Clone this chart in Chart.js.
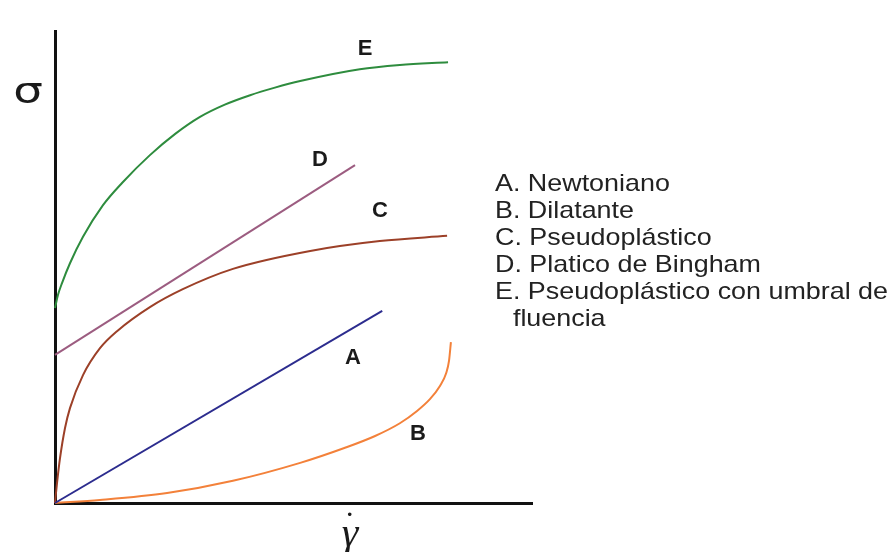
<!DOCTYPE html>
<html>
<head>
<meta charset="utf-8">
<script src="https://cdn.jsdelivr.net/npm/chart.js@4.4.1/dist/chart.umd.min.js"></script>
<style>
  body { margin: 0; background: #fff; }
  #wrap { position: relative; width: 893px; height: 552px; }
  .txt { position: absolute; font-family: 'Liberation Sans', Arial, sans-serif; color: #1a1a1a; white-space: nowrap; }
  .curve { font-weight: bold; font-size: 22px; transform: translate(-50%, -50%); }
  #legend { left: 495px; top: 169px; font-size: 24px; line-height: 27px; transform: scaleX(1.12); transform-origin: left top; color: #222; }
  #legend .indent { padding-left: 16px; }
  #sigma { left: 28px; top: 94px; font-size: 36px; transform: translate(-50%, -58%) scaleX(1.3); font-family: 'DejaVu Sans', sans-serif; }
  #gamma { left: 350px; top: 534px; font-size: 42px; font-style: italic; transform: translate(-50%, -55%); font-family: 'Liberation Serif', serif; }
  #gdot { left: 344px; top: 505px; font-size: 34px; font-family: 'Liberation Serif', serif; }
</style>
</head>
<body>
<div id="wrap">
  <canvas id="rheoChart" width="893" height="552"></canvas>
  <div class="txt curve" style="left:365px;top:48px">E</div>
  <div class="txt curve" style="left:320px;top:159px">D</div>
  <div class="txt curve" style="left:380px;top:210px">C</div>
  <div class="txt curve" style="left:353px;top:357px">A</div>
  <div class="txt curve" style="left:418px;top:433px">B</div>
  <div class="txt" id="legend">
    A. Newtoniano<br>
    B. Dilatante<br>
    C. Pseudoplástico<br>
    D. Platico de Bingham<br>
    E. Pseudoplástico con umbral de<br>
    <span class="indent">fluencia</span>
  </div>
  <div class="txt" id="sigma">σ</div>
  <div class="txt" id="gamma">γ</div>
  <div class="txt" id="gdot">˙</div>
</div>
<script>
// shear rate (x) and shear stress (y), 0..100 on both axes
var newtonianoX = [0, 68.6];
var newtonianoY = [0, 40.7];

var dilatanteX = [0, 9.43, 23.5, 37.3, 51.4, 60.8, 67.1, 72.3, 75.9, 78.6, 80.7, 82.0, 82.6, 83.0];
var dilatanteY = [0, 0.64, 2.1, 4.7, 8.5, 11.7, 14.2, 16.9, 19.5, 22.0, 24.8, 27.5, 30.1, 34.1];

var pseudoX = [0, 0.42, 1.05, 2.1, 3.14, 5.87, 9.43, 13.0, 19.9, 26.8, 37.3, 53.5, 68.1, 82.2];
var pseudoY = [0, 4.2, 9.5, 15.9, 20.1, 27.1, 32.8, 36.4, 41.5, 45.3, 49.6, 53.4, 55.5, 56.6];

var binghamX = [0, 62.9];
var binghamY = [31.4, 71.6];

var umbralX = [0, 0.63, 1.47, 3.14, 5.87, 10.06, 14.05, 19.9, 25.2, 30.4, 35.6, 40.9, 46.1, 51.4, 63.9, 72.3, 82.4];
var umbralY = [41.3, 44.1, 46.6, 50.8, 56.4, 63.1, 67.8, 73.7, 78.2, 81.8, 84.4, 86.4, 88.0, 89.4, 91.9, 92.8, 93.4];

function pts(xs, ys) {
  return xs.map(function (x, i) { return { x: x, y: ys[i] }; });
}

function curve(label, xs, ys, color) {
  return {
    label: label,
    data: pts(xs, ys),
    showLine: true,
    borderColor: color,
    borderWidth: 2,
    pointRadius: 0,
    cubicInterpolationMode: 'monotone',
    fill: false,
    clip: false
  };
}

var chart = new Chart(document.getElementById('rheoChart').getContext('2d'), {
  type: 'scatter',
  data: {
    datasets: [
      curve('A', newtonianoX, newtonianoY, '#2c2c8e'),
      curve('B', dilatanteX, dilatanteY, '#f3813a'),
      curve('C', pseudoX, pseudoY, '#9c4028'),
      curve('D', binghamX, binghamY, '#9c5c80'),
      curve('E', umbralX, umbralY, '#2e8c3e')
    ]
  },
  options: {
    responsive: false,
    animation: false,
    layout: { padding: { left: 55, right: 361, top: 31, bottom: 49 } },
    plugins: { legend: { display: false }, tooltip: { enabled: false } },
    scales: {
      x: {
        type: 'linear', min: 0, max: 100,
        ticks: { display: false },
        grid: { display: false, drawTicks: false },
        border: { display: true, color: '#111', width: 3 }
      },
      y: {
        type: 'linear', min: 0, max: 100,
        ticks: { display: false },
        grid: { display: false, drawTicks: false },
        border: { display: true, color: '#111', width: 3 }
      }
    }
  }
});
</script>
</body>
</html>
